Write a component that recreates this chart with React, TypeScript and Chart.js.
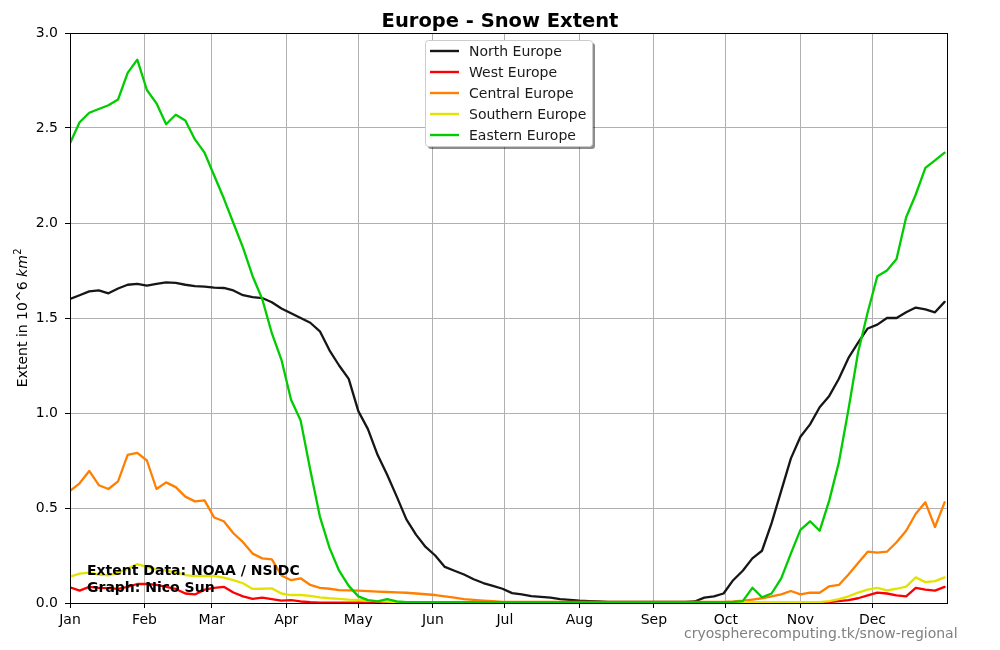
import React, { useEffect, useRef } from 'react';
import { Chart, registerables } from 'chart.js';

Chart.register(...registerables);

// Day of year (0-based) sample positions, every 4 days
const DAYS = [
  0, 4, 8, 12, 16, 20, 24, 28, 32, 36, 40, 44, 48, 52, 56, 60, 64, 68, 72, 76,
  80, 84, 88, 92, 96, 100, 104, 108, 112, 116, 120, 124, 128, 132, 136, 140, 144, 148, 152, 156,
  160, 164, 168, 172, 176, 180, 184, 188, 192, 196, 200, 204, 208, 212, 216, 220, 224, 228, 232, 236,
  240, 244, 248, 252, 256, 260, 264, 268, 272, 276, 280, 284, 288, 292, 296, 300, 304, 308, 312, 316,
  320, 324, 328, 332, 336, 340, 344, 348, 352, 356, 360, 364,
];

const MONTH_STARTS = [0, 31, 59, 90, 120, 151, 181, 212, 243, 273, 304, 334];
const MONTH_LABELS = ['Jan', 'Feb', 'Mar', 'Apr', 'May', 'Jun', 'Jul', 'Aug', 'Sep', 'Oct', 'Nov', 'Dec'];
const Y_TICKS = [0, 0.5, 1.0, 1.5, 2.0, 2.5, 3.0];

const NORTH = [
  1.60, 1.62, 1.64, 1.645, 1.63, 1.655, 1.675, 1.68, 1.67, 1.68,
  1.688, 1.685, 1.675, 1.668, 1.665, 1.66, 1.658, 1.645, 1.62, 1.61,
  1.605, 1.583, 1.55, 1.525, 1.50, 1.475, 1.43, 1.33, 1.25, 1.18,
  1.01, 0.915, 0.78, 0.675, 0.56, 0.44, 0.36, 0.295, 0.25, 0.19,
  0.17, 0.15, 0.125, 0.105, 0.09, 0.075, 0.052, 0.045, 0.036, 0.032,
  0.028, 0.02, 0.016, 0.012, 0.01, 0.008, 0.006, 0.006, 0.006, 0.006,
  0.006, 0.006, 0.006, 0.006, 0.006, 0.008, 0.028, 0.035, 0.05, 0.12,
  0.17, 0.235, 0.275, 0.42, 0.59, 0.76, 0.875, 0.94, 1.03, 1.09,
  1.18, 1.29, 1.37, 1.445, 1.465, 1.50, 1.50, 1.53, 1.555, 1.545,
  1.53, 1.585,
];

const WEST = [
  0.083, 0.065, 0.085, 0.08, 0.078, 0.074, 0.085, 0.10, 0.10, 0.095,
  0.085, 0.074, 0.05, 0.045, 0.07, 0.08, 0.085, 0.055, 0.035, 0.022,
  0.028, 0.02, 0.012, 0.015, 0.008, 0.004, 0.002, 0.002, 0.002, 0.002,
  0.002, 0.002, 0.002, 0.002, 0.002, 0.002, 0.002, 0.002, 0.002, 0.002,
  0.002, 0.002, 0.002, 0.002, 0.002, 0.002, 0.002, 0.002, 0.002, 0.002,
  0.002, 0.002, 0.002, 0.002, 0.002, 0.002, 0.002, 0.002, 0.002, 0.002,
  0.002, 0.002, 0.002, 0.002, 0.002, 0.002, 0.002, 0.002, 0.002, 0.002,
  0.002, 0.002, 0.002, 0.002, 0.002, 0.002, 0.002, 0.002, 0.002, 0.005,
  0.01, 0.015, 0.025, 0.04, 0.055, 0.05, 0.04, 0.035, 0.08, 0.07,
  0.065, 0.085,
];

const CENTRAL = [
  0.59, 0.63, 0.695, 0.62, 0.60, 0.64, 0.78, 0.79, 0.75, 0.60,
  0.635, 0.61, 0.56, 0.535, 0.54, 0.45, 0.43, 0.367, 0.32, 0.26,
  0.235, 0.23, 0.145, 0.12, 0.13, 0.095, 0.08, 0.075, 0.068, 0.066,
  0.065, 0.063, 0.06, 0.058, 0.056, 0.054, 0.05, 0.046, 0.042, 0.035,
  0.028, 0.02, 0.016, 0.013, 0.01, 0.006, 0.006, 0.006, 0.006, 0.006,
  0.006, 0.006, 0.006, 0.006, 0.006, 0.006, 0.006, 0.006, 0.006, 0.006,
  0.006, 0.006, 0.006, 0.006, 0.006, 0.006, 0.006, 0.006, 0.006, 0.008,
  0.012, 0.018, 0.025, 0.035, 0.045, 0.063, 0.045, 0.055, 0.054, 0.088,
  0.095, 0.15, 0.21, 0.27, 0.265, 0.27, 0.32, 0.38, 0.47, 0.53,
  0.40, 0.53,
];

const SOUTHERN = [
  0.138, 0.155, 0.16, 0.15, 0.145, 0.16, 0.18, 0.205, 0.19, 0.177,
  0.17, 0.163, 0.147, 0.142, 0.142, 0.142, 0.133, 0.12, 0.104, 0.074,
  0.075, 0.077, 0.05, 0.042, 0.042, 0.038, 0.03, 0.025, 0.022, 0.018,
  0.016, 0.012, 0.01, 0.008, 0.005, 0.005, 0.005, 0.005, 0.005, 0.005,
  0.005, 0.005, 0.005, 0.005, 0.005, 0.005, 0.005, 0.005, 0.005, 0.005,
  0.005, 0.005, 0.005, 0.005, 0.005, 0.005, 0.005, 0.005, 0.005, 0.005,
  0.005, 0.005, 0.005, 0.005, 0.005, 0.005, 0.005, 0.005, 0.005, 0.005,
  0.005, 0.005, 0.005, 0.005, 0.005, 0.005, 0.005, 0.005, 0.005, 0.01,
  0.02, 0.035, 0.055, 0.07, 0.08, 0.066, 0.075, 0.086, 0.135, 0.11,
  0.115, 0.135,
];

const EASTERN = [
  2.42, 2.53, 2.58, 2.60, 2.62, 2.65, 2.79, 2.86, 2.70, 2.63,
  2.52, 2.57, 2.54, 2.44, 2.37, 2.25, 2.13, 2.00, 1.87, 1.72,
  1.60, 1.42, 1.28, 1.07, 0.96, 0.70, 0.455, 0.29, 0.17, 0.09,
  0.035, 0.015, 0.008, 0.02, 0.008, 0.004, 0.004, 0.004, 0.004, 0.004,
  0.004, 0.004, 0.004, 0.004, 0.004, 0.004, 0.004, 0.004, 0.004, 0.004,
  0.004, 0.004, 0.004, 0.004, 0.004, 0.004, 0.004, 0.004, 0.004, 0.004,
  0.004, 0.004, 0.004, 0.004, 0.004, 0.004, 0.004, 0.004, 0.004, 0.005,
  0.01, 0.08, 0.03, 0.05, 0.13, 0.26, 0.385, 0.43, 0.38, 0.54,
  0.74, 1.02, 1.32, 1.53, 1.72, 1.75, 1.81, 2.03, 2.15, 2.29,
  2.33, 2.37,
];

const SERIES_NAMES = ['North Europe', 'West Europe', 'Central Europe', 'Southern Europe', 'Eastern Europe'];
const SERIES_COLORS = ['#161616', '#ff0000', '#ff7f00', '#e3e300', '#00cc00'];
const SERIES_VALUES = [NORTH, WEST, CENTRAL, SOUTHERN, EASTERN];

const FONT = '"DejaVu Sans", Verdana, sans-serif';

const decorPlugin = {
  id: 'decor',
  afterDraw(chart: any) {
    const { ctx, chartArea: a } = chart;
    ctx.save();

    // frame
    ctx.strokeStyle = '#000';
    ctx.lineWidth = 1;
    ctx.strokeRect(Math.round(a.left) + 0.5, Math.round(a.top) + 0.5,
      Math.round(a.right) - Math.round(a.left), Math.round(a.bottom) - Math.round(a.top));

    // title
    ctx.fillStyle = '#000';
    ctx.font = `bold 19.5px ${FONT}`;
    ctx.textAlign = 'center';
    ctx.textBaseline = 'alphabetic';
    ctx.fillText('Europe - Snow Extent', 500, 27);

    // y axis label (rotated)
    ctx.save();
    ctx.translate(27, (a.top + a.bottom) / 2);
    ctx.rotate(-Math.PI / 2);
    const p1 = 'Extent in 10^6 ';
    const p2 = 'km';
    const p3 = '2';
    ctx.font = `14px ${FONT}`;
    const w1 = ctx.measureText(p1).width;
    ctx.font = `italic 14px ${FONT}`;
    const w2 = ctx.measureText(p2).width;
    ctx.font = `10px ${FONT}`;
    const w3 = ctx.measureText(p3).width;
    let x0 = -(w1 + w2 + w3) / 2;
    ctx.textAlign = 'left';
    ctx.font = `14px ${FONT}`;
    ctx.fillText(p1, x0, 0);
    x0 += w1;
    ctx.font = `italic 14px ${FONT}`;
    ctx.fillText(p2, x0, 0);
    x0 += w2;
    ctx.font = `10px ${FONT}`;
    ctx.fillText(p3, x0 + 0.5, -6);
    ctx.restore();

    // source texts
    ctx.textAlign = 'left';
    ctx.font = `bold 14px ${FONT}`;
    ctx.fillStyle = '#000';
    ctx.fillText('Extent Data: NOAA / NSIDC', 87, 575);
    ctx.fillText('Graph: Nico Sun', 87, 592);

    // watermark
    ctx.font = `14px ${FONT}`;
    ctx.fillStyle = '#808080';
    ctx.fillText('cryospherecomputing.tk/snow-regional', 684, 638);

    // legend
    const bx = 425, by = 40, bw = 167, bh = 106, r = 3;
    const rr = (x: number, y: number, w: number, h: number) => {
      ctx.beginPath();
      ctx.moveTo(x + r, y);
      ctx.lineTo(x + w - r, y);
      ctx.quadraticCurveTo(x + w, y, x + w, y + r);
      ctx.lineTo(x + w, y + h - r);
      ctx.quadraticCurveTo(x + w, y + h, x + w - r, y + h);
      ctx.lineTo(x + r, y + h);
      ctx.quadraticCurveTo(x, y + h, x, y + h - r);
      ctx.lineTo(x, y + r);
      ctx.quadraticCurveTo(x, y, x + r, y);
      ctx.closePath();
    };
    rr(bx + 3, by + 3, bw, bh);
    ctx.fillStyle = 'rgba(0,0,0,0.45)';
    ctx.fill();
    rr(bx + 0.5, by + 0.5, bw, bh);
    ctx.fillStyle = '#ffffff';
    ctx.fill();
    ctx.strokeStyle = '#cccccc';
    ctx.lineWidth = 1;
    ctx.stroke();

    ctx.font = `14px ${FONT}`;
    ctx.textBaseline = 'middle';
    for (let i = 0; i < SERIES_NAMES.length; i++) {
      const yy = 51 + i * 21;
      ctx.strokeStyle = SERIES_COLORS[i];
      ctx.lineWidth = 2.4;
      ctx.beginPath();
      ctx.moveTo(430, yy);
      ctx.lineTo(459, yy);
      ctx.stroke();
      ctx.fillStyle = '#1a1a1a';
      ctx.fillText(SERIES_NAMES[i], 469, yy + 1);
    }

    ctx.restore();
  },
};

export default function App() {
  const ref = useRef<HTMLCanvasElement | null>(null);

  useEffect(() => {
    if (!ref.current) return;
    const datasets = SERIES_NAMES.map((name, i) => ({
      label: name,
      data: DAYS.map((d, j) => ({ x: d, y: SERIES_VALUES[i][j] })),
      borderColor: SERIES_COLORS[i],
      backgroundColor: SERIES_COLORS[i],
      borderWidth: 2.3,
      pointRadius: 0,
      tension: 0,
      fill: false,
      borderJoinStyle: 'round' as const,
      borderCapStyle: 'round' as const,
      order: SERIES_NAMES.length - i,
    }));

    const chart = new Chart(ref.current, {
      type: 'line',
      data: { datasets },
      plugins: [decorPlugin],
      options: {
        animation: false,
        responsive: true,
        maintainAspectRatio: false,
        devicePixelRatio: 1,
        layout: { padding: { left: 0, right: 53, top: 33, bottom: 0 } },
        plugins: {
          legend: { display: false },
          title: { display: false },
          tooltip: { enabled: false },
        },
        scales: {
          x: {
            type: 'linear',
            min: 0,
            max: 365,
            afterBuildTicks: (s: any) => {
              s.ticks = MONTH_STARTS.map((v) => ({ value: v }));
            },
            afterFit: (s: any) => {
              s.height = 47;
            },
            ticks: {
              autoSkip: false,
              maxRotation: 0,
              padding: 4,
              color: '#000',
              font: { family: FONT, size: 14 },
              callback: (v: any) => {
                const k = MONTH_STARTS.indexOf(Number(v));
                return k >= 0 ? MONTH_LABELS[k] : '';
              },
            },
            grid: {
              color: '#b0b0b0',
              lineWidth: 1,
              tickColor: '#000',
              tickLength: 5,
              drawTicks: true,
            },
            border: { display: false },
          },
          y: {
            type: 'linear',
            min: 0,
            max: 3,
            afterBuildTicks: (s: any) => {
              s.ticks = Y_TICKS.map((v) => ({ value: v }));
            },
            afterFit: (s: any) => {
              s.width = 70;
            },
            ticks: {
              padding: 7,
              color: '#000',
              font: { family: FONT, size: 14 },
              callback: (v: any) => Number(v).toFixed(1),
            },
            grid: {
              color: '#b0b0b0',
              lineWidth: 1,
              tickColor: '#000',
              tickLength: 5,
              drawTicks: true,
            },
            border: { display: false },
          },
        },
      },
    });
    return () => chart.destroy();
  }, []);

  return (
    <div style={{ position: 'fixed', left: 0, top: 0, width: 1000, height: 650, background: '#fff' }}>
      <canvas ref={ref} />
    </div>
  );
}
